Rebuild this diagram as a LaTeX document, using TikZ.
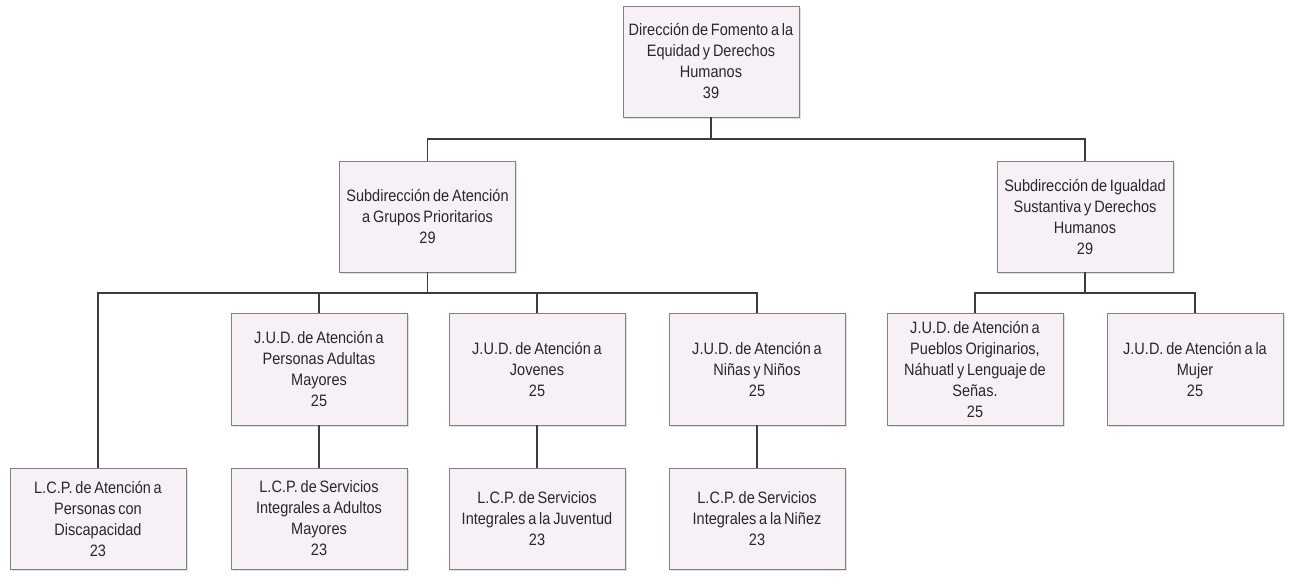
\documentclass[tikz,border=0pt]{standalone}
\usepackage{fontspec}
\setmainfont[FakeStretch=0.88, WordSpace=0.7]{Liberation Sans}
\usetikzlibrary{shadows}

\definecolor{boxfill}{RGB}{247,241,247}
\definecolor{boxline}{RGB}{128,128,128}
\definecolor{linkline}{RGB}{60,60,60}
\definecolor{boxtext}{RGB}{40,40,40}

\tikzset{
    unit/.style={draw=boxline, fill=boxfill, line width=0.8pt,
        minimum width=176pt, inner sep=1pt,
        align=center, text=boxtext,
        font=\fontsize{16.5}{21}\selectfont,
        drop shadow={opacity=0.25, shadow xshift=1.5pt, shadow yshift=-1.5pt}},
    tall/.style={unit, minimum height=111pt},
    short/.style={unit, minimum height=101pt},
    link/.style={draw=linkline, line width=1.6pt}
}

\begin{document}
\begin{tikzpicture}[x=1pt, y=-1pt]
    \useasboundingbox (0,0) rectangle (1290,582);

    % Top level
    \node[tall] (dir) at (711,61.5) {Dirección de Fomento a la\\Equidad y Derechos\\Humanos\\39};

    % Subdirecciones
    \node[tall] (subgp) at (427.5,216.5) {Subdirección de Atención\\a Grupos Prioritarios\\29};
    \node[tall] (subis) at (1085,216.5) {Subdirección de Igualdad\\Sustantiva y Derechos\\Humanos\\29};

    % J.U.D.
    \node[tall, minimum height=112pt] (judam) at (319,369) {J.U.D. de Atención a\\Personas Adultas\\Mayores\\25};
    \node[tall, minimum height=112pt] (judjo) at (537,369) {J.U.D. de Atención a\\Jovenes\\25};
    \node[tall, minimum height=112pt] (judnn) at (757,369) {J.U.D. de Atención a\\Niñas y Niños\\25};
    \node[tall, minimum height=112pt] (judpo) at (975,369) {J.U.D. de Atención a\\Pueblos Originarios,\\Náhuatl y Lenguaje de\\Señas.\\25};
    \node[tall, minimum height=112pt] (judmu) at (1195,369) {J.U.D. de Atención a la\\Mujer\\25};

    % L.C.P.
    \node[short] (lcpdi) at (98,518.5) {L.C.P. de Atención a\\Personas con\\Discapacidad\\23};
    \node[short] (lcpam) at (319,518.5) {L.C.P. de Servicios\\Integrales a Adultos\\Mayores\\23};
    \node[short] (lcpju) at (537,518.5) {L.C.P. de Servicios\\Integrales a la Juventud\\23};
    \node[short] (lcpni) at (757,518.5) {L.C.P. de Servicios\\Integrales a la Niñez\\23};

    % Buses
    \coordinate (bustop) at (711,139);
    \coordinate (busgp) at (427.5,293);
    \coordinate (busis) at (1085,293);

    % Connectors
    \draw[link] (dir.south) -- (bustop);
    \draw[link] (subgp.north) |- (bustop) -| (subis.north);
    \draw[link] (subgp.south) -- (busgp);
    \draw[link] (lcpdi.north) |- (busgp) -| (judnn.north);
    \foreach \n in {judam,judjo} \draw[link] (\n.north) -- (\n.north |- busgp);
    \draw[link] (subis.south) -- (busis);
    \draw[link] (judpo.north) |- (busis) -| (judmu.north);
    \foreach \a/\b in {judam/lcpam, judjo/lcpju, judnn/lcpni} \draw[link] (\a) -- (\b);
\end{tikzpicture}
\end{document}
